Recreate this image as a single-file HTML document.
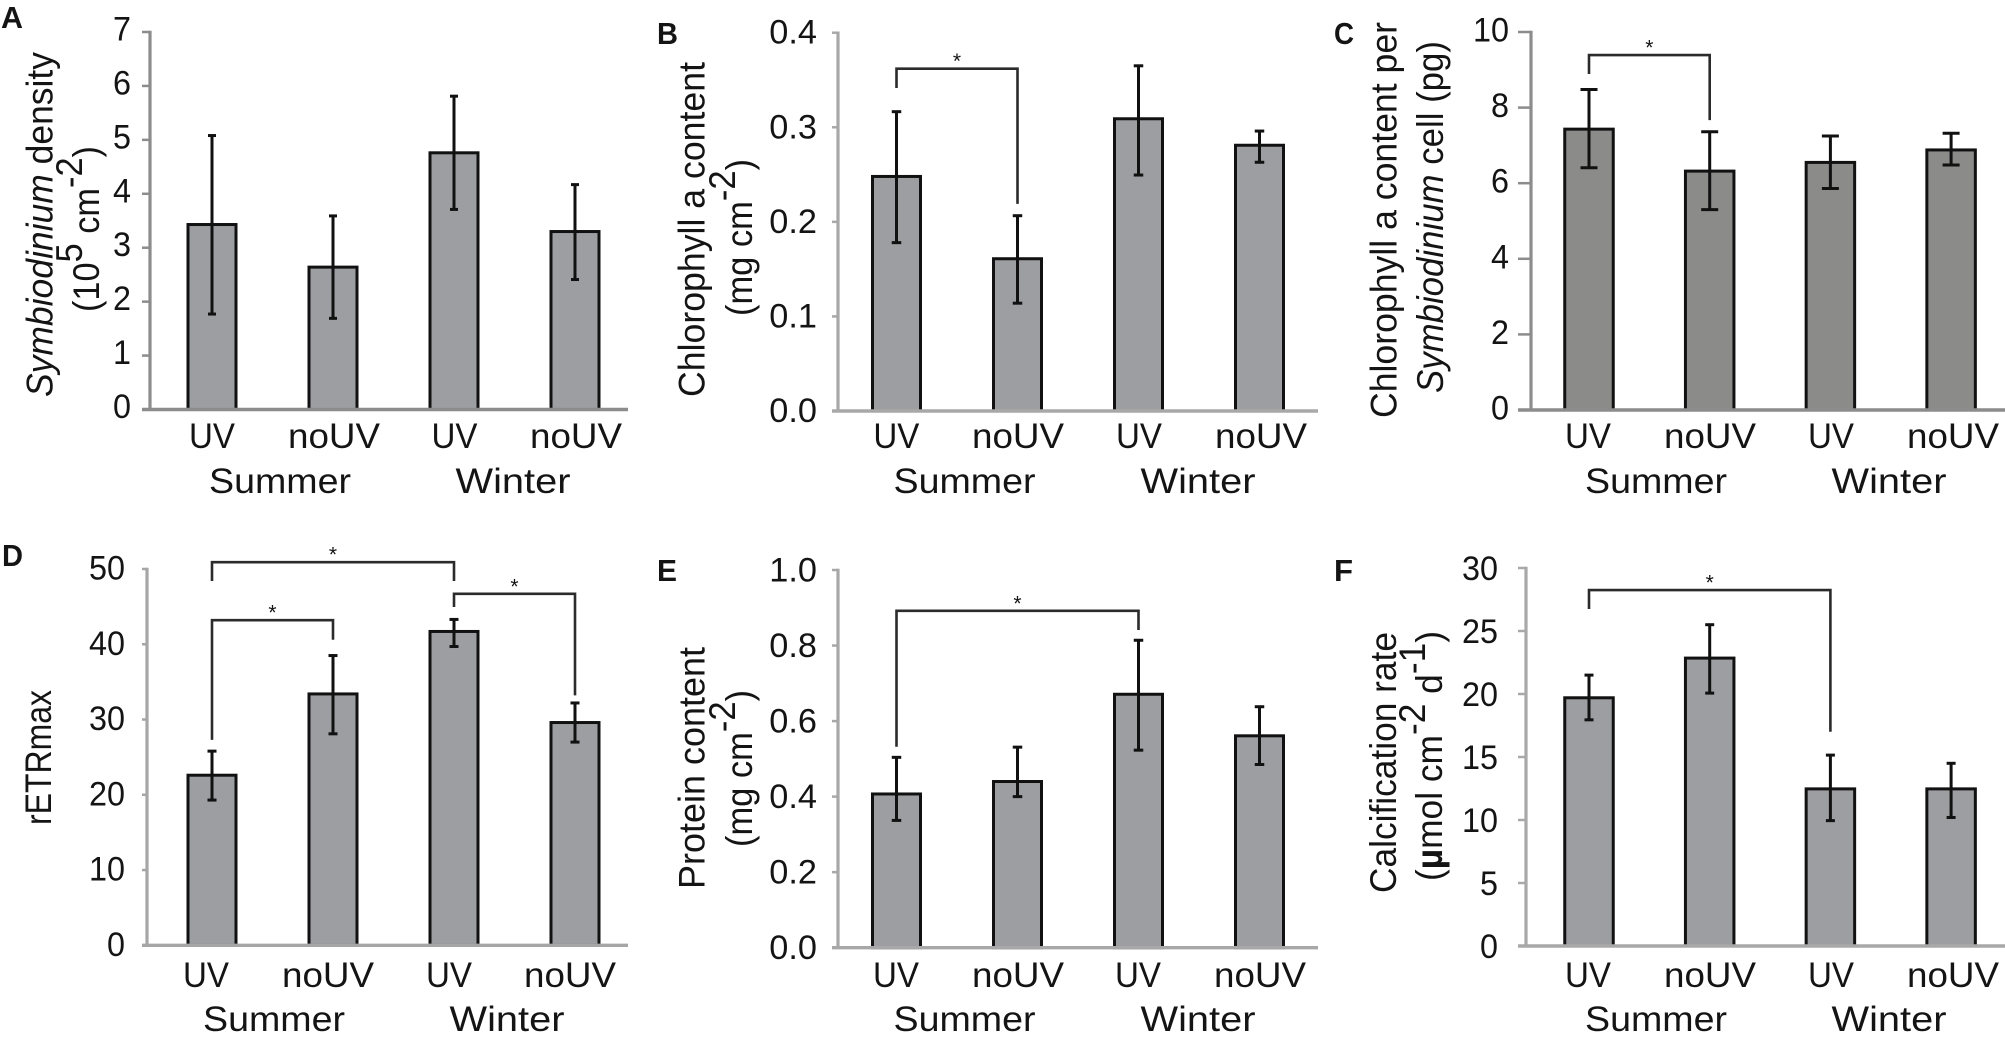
<!DOCTYPE html>
<html lang="en">
<head>
<meta charset="utf-8">
<title>Symbiodinium, chlorophyll, rETRmax, protein and calcification by season and UV treatment</title>
<style>
  html, body { margin: 0; padding: 0; background: #fff; }
  #figure { display: block; width: 2005px; height: 1039px; background: #fff; }
  text { font-family: "Liberation Sans", sans-serif; fill: #141414; white-space: pre; }
</style>
</head>
<body>
<svg id="figure" xmlns="http://www.w3.org/2000/svg" width="2005" height="1039" viewBox="0 0 2005 1039"></svg>
<script>
// ---- shared categories ----
const treatments = ['UV', 'noUV', 'UV', 'noUV'];
const seasons = ['Summer', 'Winter'];

// ---- panel A ----
const panelATicks = ['0', '1', '2', '3', '4', '5', '6', '7'];
const panelAValues = [3.43, 2.64, 4.76, 3.30];
const panelAUpper = [5.08, 3.59, 5.81, 4.17];
const panelALower = [1.77, 1.69, 3.71, 2.41];
const panelABrackets = [];

// ---- panel B ----
const panelBTicks = ['0.0', '0.1', '0.2', '0.3', '0.4'];
const panelBValues = [0.248, 0.161, 0.309, 0.281];
const panelBUpper = [0.3165, 0.2065, 0.365, 0.296];
const panelBLower = [0.178, 0.114, 0.2495, 0.263];
const panelBBrackets = [[0, 1, 0.362, 0.3415, 0.219]];

// ---- panel C ----
const panelCTicks = ['0', '2', '4', '6', '8', '10'];
const panelCValues = [7.43, 6.32, 6.55, 6.88];
const panelCUpper = [8.48, 7.36, 7.25, 7.32];
const panelCLower = [6.41, 5.30, 5.86, 6.48];
const panelCBrackets = [[0, 1, 9.39, 8.89, 7.67]];

// ---- panel D ----
const panelDTicks = ['0', '10', '20', '30', '40', '50'];
const panelDValues = [22.6, 33.4, 41.7, 29.6];
const panelDUpper = [25.8, 38.5, 43.3, 32.2];
const panelDLower = [19.3, 28.1, 39.7, 27.0];
const panelDBrackets = [[0, 2, 50.9, 48.4, 48.4], [2, 3, 46.7, 44.95, 33.2], [0, 1, 43.2, 27.3, 40.6]];

// ---- panel E ----
const panelETicks = ['0.0', '0.2', '0.4', '0.6', '0.8', '1.0'];
const panelEValues = [0.407, 0.44, 0.671, 0.561];
const panelEUpper = [0.504, 0.531, 0.814, 0.638];
const panelELower = [0.337, 0.40, 0.523, 0.485];
const panelEBrackets = [[0, 2, 0.892, 0.532, 0.841]];

// ---- panel F ----
const panelFTicks = ['0', '5', '10', '15', '20', '25', '30'];
const panelFValues = [19.7, 22.85, 12.47, 12.47];
const panelFUpper = [21.5, 25.5, 15.15, 14.5];
const panelFLower = [17.95, 20.07, 9.95, 10.2];
const panelFBrackets = [[0, 2, 28.25, 26.75, 17.0]];

const SVG_NS = 'http://www.w3.org/2000/svg';
const figure = document.getElementById('figure');

function svgEl(tag, parent) {
  const el = document.createElementNS(SVG_NS, tag);
  parent.appendChild(el);
  return el;
}

function line(parent, x1, y1, x2, y2, color, width) {
  const el = svgEl('line', parent);
  el.setAttribute('x1', x1);
  el.setAttribute('y1', y1);
  el.setAttribute('x2', x2);
  el.setAttribute('y2', y2);
  el.setAttribute('stroke', color);
  el.setAttribute('stroke-width', width);
  return el;
}

function label(parent, str, x, y, anchor, size, len) {
  const el = svgEl('text', parent);
  el.setAttribute('x', x);
  el.setAttribute('y', y);
  el.setAttribute('text-anchor', anchor);
  el.setAttribute('font-size', size);
  if (len) {
    el.setAttribute('textLength', len);
    el.setAttribute('lengthAdjust', 'spacingAndGlyphs');
  }
  el.textContent = str;
  return el;
}

// Vertical title: parts are [text, kind]; kind n=normal i=italic s=superscript b=bold
function verticalTitle(parent, parts, baseX, startY, endY, size, supShift) {
  const el = svgEl('text', parent);
  el.setAttribute('x', baseX);
  el.setAttribute('y', startY);
  el.setAttribute('font-size', size);
  el.setAttribute('transform', 'rotate(-90 ' + baseX + ' ' + startY + ')');
  el.setAttribute('textLength', startY - endY);
  el.setAttribute('lengthAdjust', 'spacingAndGlyphs');
  let shifted = false;
  parts.forEach(function (part) {
    const span = svgEl('tspan', el);
    span.textContent = part[0];
    if (part[1] === 'i') span.setAttribute('font-style', 'italic');
    if (part[1] === 'b') span.setAttribute('font-weight', 'bold');
    if (part[1] === 's' && !shifted) { span.setAttribute('dy', -supShift); shifted = true; }
    if (part[1] !== 's' && shifted) { span.setAttribute('dy', supShift); shifted = false; }
  });
  return el;
}

const digitWidth = 18;
const pointWidth = 11.7;
function tickWidth(str) {
  let w = 0;
  for (const c of str) w += (c === '.') ? pointWidth : digitWidth;
  return w;
}

function drawPanel(cfg) {
  const group = svgEl('g', figure);
  
  

  const maxTick = parseFloat(cfg.ticks[cfg.ticks.length - 1]);
  const yScale = function (v) { return cfg.bottom - (v / maxTick) * (cfg.bottom - cfg.top); };
  const xScale = function (i) { return cfg.firstBar + i * cfg.barStep; };

  // panel letter
  const letter = label(group, cfg.letter, cfg.letterX, cfg.letterY, 'start', 31, cfg.letterW);
  letter.setAttribute('font-weight', 'bold');
  
  

  // bars
  cfg.values.forEach(function (v, i) {
    const bar = svgEl('rect', group);
    bar.setAttribute('x', xScale(i) - cfg.barWidth / 2);
    bar.setAttribute('y', yScale(v));
    bar.setAttribute('width', cfg.barWidth);
    bar.setAttribute('height', yScale(0) - yScale(v));
    bar.setAttribute('fill', cfg.fill);
    bar.setAttribute('stroke', '#111');
    bar.setAttribute('stroke-width', 3);
    
    
  });

  // error bars
  cfg.values.forEach(function (v, i) {
    const err = svgEl('g', group);
    
    
    const cx = xScale(i);
    const hi = yScale(cfg.upper[i]);
    const lo = yScale(cfg.lower[i]);
    line(err, cx, hi, cx, lo, '#111', 3);
    line(err, cx - cfg.cap / 2, hi, cx + cfg.cap / 2, hi, '#111', 3);
    line(err, cx - cfg.cap / 2, lo, cx + cfg.cap / 2, lo, '#111', 3);
  });

  // axes
  const yAxis = svgEl('g', group);
  
  
  line(yAxis, cfg.axisX, cfg.top - 1.2, cfg.axisX, cfg.bottom + 1, cfg.axisColor, 3.2);
  cfg.ticks.forEach(function (t) {
    const y = yScale(parseFloat(t));
    line(yAxis, cfg.tickLeft, y, cfg.axisX, y, cfg.axisColor, 2.5);
    const tl = label(yAxis, t, cfg.tickTextRight, y + cfg.tickDy, 'end', 34, tickWidth(t));
    
    
  });
  const xAxis = line(group, cfg.tickLeft, cfg.bottom, cfg.axisRight, cfg.bottom, cfg.axisColor, 3.4);
  
  

  // category labels
  treatments.forEach(function (t, i) {
    const tl = label(group, t, cfg.catX[i], cfg.catBase, 'middle', 35, t === 'UV' ? 46 : 92);
    
    
  });
  seasons.forEach(function (s, i) {
    const tl = label(group, s, cfg.seasonX[i], cfg.seasonBase, 'middle', 35, s === 'Summer' ? 142 : 115);
    
    
  });

  // y titles
  cfg.titles.forEach(function (tt) {
    const el = verticalTitle(group, tt.parts, tt.x, tt.start, tt.end, 37, 17);
    
    
  });

  // significance brackets: [barA, barB, level, leftEnd, rightEnd] in axis values
  cfg.brackets.forEach(function (b) {
    const g = svgEl('g', group);
    
    
    const xa = xScale(b[0]);
    const xb = xScale(b[1]);
    const path = svgEl('path', g);
    path.setAttribute('d', 'M' + xa + ' ' + yScale(b[3]) + 'V' + yScale(b[2]) + 'H' + xb + 'V' + yScale(b[4]));
    path.setAttribute('fill', 'none');
    path.setAttribute('stroke', '#2b2b2b');
    path.setAttribute('stroke-width', 2.6);
    const star = label(g, '*', (xa + xb) / 2, yScale(b[2]) - 0.5, 'middle', 21);
    
    
  });
}

const cm2 = [['cm', 'n'], ['-2', 's']];

drawPanel({
  name: 'panel-a-symbiodinium-density', letter: 'A', letterX: 1, letterY: 28, letterW: 22,
  ticks: panelATicks, values: panelAValues, upper: panelAUpper, lower: panelALower, brackets: panelABrackets,
  axisX: 150, tickLeft: 142, axisRight: 628, top: 32, bottom: 409.5, tickTextRight: 131, tickDy: 8.5, axisColor: '#8c8c8c',
  firstBar: 212, barStep: 121, barWidth: 48, cap: 8, fill: '#9d9ea1',
  catX: [212, 334, 454.5, 576], catBase: 448, seasonX: [280, 513], seasonBase: 493,
  titles: [
    { parts: [['Symbiodinium', 'i'], [' density', 'n']], x: 52.6, start: 397, end: 52 },
    { parts: [['(10', 'n'], ['5', 's'], [' ', 'n']].concat(cm2, [[')', 'n']]), x: 99, start: 312, end: 146 }
  ]
});

drawPanel({
  name: 'panel-b-chlorophyll-content', letter: 'B', letterX: 657, letterY: 44, letterW: 21,
  ticks: panelBTicks, values: panelBValues, upper: panelBUpper, lower: panelBLower, brackets: panelBBrackets,
  axisX: 838, tickLeft: 832, axisRight: 1318, top: 32.7, bottom: 411, tickTextRight: 817, tickDy: 11, axisColor: '#a8a8a8',
  firstBar: 896.5, barStep: 121, barWidth: 48, cap: 9.5, fill: '#9d9ea1',
  catX: [896.4, 1018, 1139, 1261], catBase: 448, seasonX: [964.5, 1198], seasonBase: 493,
  titles: [
    { parts: [['Chlorophyll a content', 'n']], x: 704.7, start: 397, end: 62 },
    { parts: [['(mg ', 'n']].concat(cm2, [[')', 'n']]), x: 752, start: 316, end: 159 }
  ]
});

drawPanel({
  name: 'panel-c-chlorophyll-per-cell', letter: 'C', letterX: 1334, letterY: 44, letterW: 20,
  ticks: panelCTicks, values: panelCValues, upper: panelCUpper, lower: panelCLower, brackets: panelCBrackets,
  axisX: 1531, tickLeft: 1518, axisRight: 2005, top: 32, bottom: 410, tickTextRight: 1509, tickDy: 9.5, axisColor: '#8c8c8c',
  firstBar: 1589, barStep: 120.7, barWidth: 48.5, cap: 17, fill: '#8b8b8a',
  catX: [1588, 1710, 1831, 1953], catBase: 448, seasonX: [1656, 1889], seasonBase: 493,
  titles: [
    { parts: [['Chlorophyll a content per', 'n']], x: 1396.4, start: 418, end: 22 },
    { parts: [['Symbiodinium', 'i'], [' cell (pg)', 'n']], x: 1443, start: 393, end: 41 }
  ]
});

drawPanel({
  name: 'panel-d-retrmax', letter: 'D', letterX: 2, letterY: 566, letterW: 21,
  ticks: panelDTicks, values: panelDValues, upper: panelDUpper, lower: panelDLower, brackets: panelDBrackets,
  axisX: 147, tickLeft: 142, axisRight: 628, top: 569, bottom: 945.3, tickTextRight: 125, tickDy: 10.5, axisColor: '#a6a6a6',
  firstBar: 212, barStep: 121, barWidth: 48, cap: 9, fill: '#9d9ea1',
  catX: [206, 328, 449, 570], catBase: 987, seasonX: [274, 507], seasonBase: 1031,
  titles: [
    { parts: [['rETRmax', 'n']], x: 51, start: 825, end: 690 }
  ]
});

drawPanel({
  name: 'panel-e-protein-content', letter: 'E', letterX: 657, letterY: 581, letterW: 20,
  ticks: panelETicks, values: panelEValues, upper: panelEUpper, lower: panelELower, brackets: panelEBrackets,
  axisX: 838, tickLeft: 832, axisRight: 1318, top: 570, bottom: 947.7, tickTextRight: 817, tickDy: 11.5, axisColor: '#a8a8a8',
  firstBar: 896.5, barStep: 121, barWidth: 48, cap: 9.5, fill: '#9d9ea1',
  catX: [896, 1018, 1138, 1260], catBase: 987, seasonX: [964.5, 1198], seasonBase: 1031,
  titles: [
    { parts: [['Protein content', 'n']], x: 704.7, start: 889, end: 647 },
    { parts: [['(mg ', 'n']].concat(cm2, [[')', 'n']]), x: 752, start: 847, end: 690 }
  ]
});

drawPanel({
  name: 'panel-f-calcification-rate', letter: 'F', letterX: 1334, letterY: 581, letterW: 19,
  ticks: panelFTicks, values: panelFValues, upper: panelFUpper, lower: panelFLower, brackets: panelFBrackets,
  axisX: 1526, tickLeft: 1518, axisRight: 2005, top: 568, bottom: 946, tickTextRight: 1498, tickDy: 12, axisColor: '#a8a8a8',
  firstBar: 1589, barStep: 120.7, barWidth: 48.5, cap: 9, fill: '#9d9ea1',
  catX: [1588, 1710, 1831, 1953], catBase: 987, seasonX: [1656, 1889], seasonBase: 1031,
  titles: [
    { parts: [['Calcification rate', 'n']], x: 1396, start: 893, end: 632 },
    { parts: [['(', 'n'], ['\u00B5', 'b'], ['mol ', 'n']].concat(cm2, [[' d', 'n'], ['-1', 's'], [')', 'n']]), x: 1442, start: 881, end: 631 }
  ]
});
</script>
</body>
</html>
